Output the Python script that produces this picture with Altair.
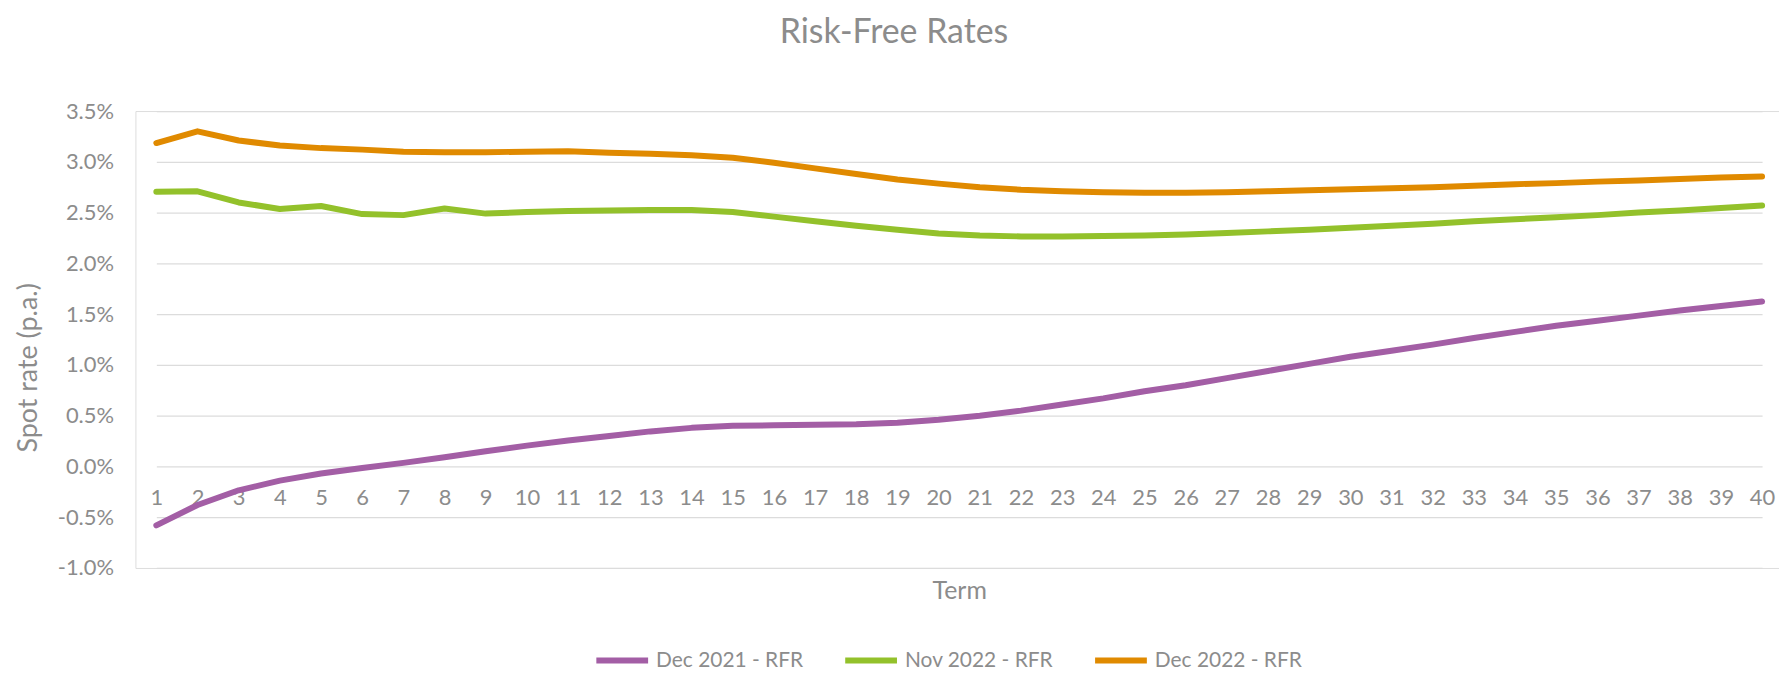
import altair as alt
import pandas as pd

# ---- data ----
terms = list(range(1, 41))
dec2021 = [-0.58, -0.38, -0.235, -0.14, -0.07, -0.015, 0.035, 0.09, 0.15, 0.205,
           0.255, 0.30, 0.345, 0.38, 0.40, 0.405, 0.41, 0.415, 0.43, 0.46,
           0.50, 0.55, 0.61, 0.67, 0.74, 0.80, 0.87, 0.94, 1.01, 1.08,
           1.14, 1.20, 1.265, 1.325, 1.385, 1.435, 1.485, 1.535, 1.58, 1.625]
nov2022 = [2.705, 2.71, 2.60, 2.535, 2.565, 2.485, 2.475, 2.54, 2.49, 2.505,
           2.515, 2.52, 2.525, 2.525, 2.505, 2.46, 2.415, 2.37, 2.33, 2.295,
           2.275, 2.265, 2.265, 2.27, 2.275, 2.285, 2.30, 2.315, 2.33, 2.35,
           2.37, 2.39, 2.415, 2.435, 2.455, 2.475, 2.50, 2.52, 2.545, 2.57]
dec2022 = [3.185, 3.30, 3.21, 3.16, 3.135, 3.12, 3.10, 3.095, 3.095, 3.10,
           3.105, 3.09, 3.08, 3.065, 3.04, 2.99, 2.935, 2.88, 2.825, 2.785,
           2.75, 2.725, 2.71, 2.70, 2.695, 2.695, 2.70, 2.71, 2.72, 2.73,
           2.74, 2.75, 2.765, 2.78, 2.79, 2.805, 2.815, 2.83, 2.845, 2.855]
series_names = ["Dec 2021 - RFR", "Nov 2022 - RFR", "Dec 2022 - RFR"]
series_colors = ["#A35EA5", "#93C12B", "#E08A00"]
y_ticks = [-1.0, -0.5, 0.0, 0.5, 1.0, 1.5, 2.0, 2.5, 3.0, 3.5]

rows = []
for name, vals in zip(series_names, [dec2021, nov2022, dec2022]):
    for t, v in zip(terms, vals):
        rows.append({"Term": t, "Rate": v, "Series": name})
df = pd.DataFrame(rows)

FONT = "Lato"
GRAY = "#8c8c8c"
W, H = 1651, 459

chart = alt.Chart(df).mark_line(
    strokeWidth=6, strokeCap="round", strokeJoin="round"
).encode(
    x=alt.X(
        "Term:O", sort=terms,
        scale=alt.Scale(type="point", range=[21, 1634], padding=0),
        axis=alt.Axis(
            title="Term", labelAngle=0, domain=False, ticks=False, tickSize=0,
            grid=False, offset=-102, labelPadding=31, labelBaseline="middle",
            labelFont=FONT, labelFontSize=22, labelColor=GRAY,
            titleFont=FONT, titleFontSize=25, titleFontWeight="normal",
            titleColor=GRAY, titleY=125, titleBaseline="middle",
        ),
    ),
    y=alt.Y(
        "Rate:Q",
        scale=alt.Scale(domain=[-1.0, 3.5], nice=False, zero=False),
        axis=alt.Axis(
            values=y_ticks,
            labelExpr="replace(format(datum.value, '.1f'), '\u2212', '-') + '%'",
            domain=False, ticks=False, tickSize=0, labelPadding=22,
            labelFont=FONT, labelFontSize=22, labelColor=GRAY,
            grid=True, gridColor="#dcdcdc", gridWidth=1.3,
            title="Spot rate (p.a.)", titleFont=FONT, titleFontSize=27,
            titleFontWeight="normal", titleColor=GRAY, titleAngle=270,
            titleX=-107, titleY=257.5, titleBaseline="middle", titleAlign="center",
            titleLimit=400,
        ),
    ),
    color=alt.Color(
        "Series:N",
        scale=alt.Scale(domain=series_names, range=series_colors),
        legend=alt.Legend(
            title=None, orient="none", direction="horizontal",
            legendX=460, legendY=523, padding=0,
            symbolType="stroke", symbolSize=2704, symbolStrokeWidth=6,
            labelFont=FONT, labelFontSize=21, labelColor=GRAY,
            labelOffset=5, columnPadding=30,
        ),
    ),
).properties(
    width=W, height=H,
    title=alt.TitleParams(
        text="Risk-Free Rates", font=FONT, fontSize=34, fontWeight="normal",
        color=GRAY, anchor="middle", frame="group", dx=-63.5, offset=33,
        baseline="middle",
    ),
    padding={"left": 128, "top": 102, "right": 0, "bottom": 107},
    autosize=alt.AutoSizeParams(type="none"),
).configure_view(strokeWidth=0).configure(background="white")

chart.save("out.html", embed_options={"renderer": "svg", "actions": False})
